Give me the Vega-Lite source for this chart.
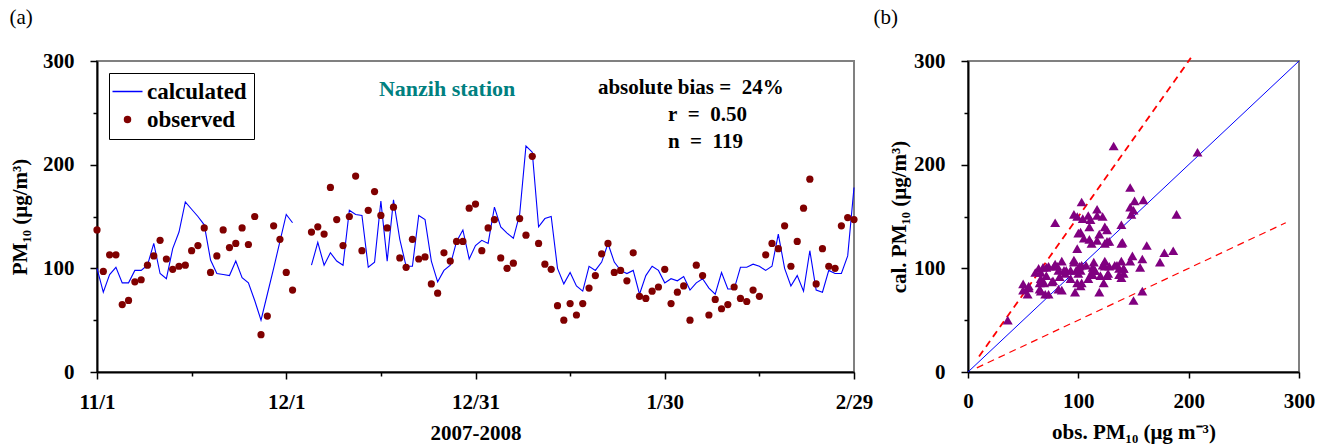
{
  "$schema": "https://vega.github.io/schema/vega-lite/v6.json",
  "background": "white",
  "padding": {"left": 8, "top": 6, "right": 26, "bottom": 4},
  "config": {
    "font": "Liberation Serif",
    "view": {"stroke": "#808080", "strokeWidth": 2},
    "axis": {
      "grid": false,
      "labelFont": "Liberation Serif", "labelFontSize": 21, "labelFontWeight": "bold", "labelColor": "black",
      "titleFont": "Liberation Serif", "titleFontSize": 21, "titleFontWeight": "bold", "titleColor": "black",
      "domainColor": "black", "domainWidth": 2, "tickColor": "black", "tickWidth": 1.5,
      "labelOverlap": false
    }
  },
  "datasets": {
    "pm": [
      {"d":0,"calc":100,"obs":137},{"d":1,"calc":77,"obs":97},{"d":2,"calc":94,"obs":113},{"d":3,"calc":101,"obs":113},
      {"d":4,"calc":86,"obs":65},{"d":5,"calc":86,"obs":69},{"d":6,"calc":98,"obs":87},{"d":7,"calc":98,"obs":89},
      {"d":8,"calc":103,"obs":103},{"d":9,"calc":124,"obs":112},{"d":10,"calc":95,"obs":127},{"d":11,"calc":90,"obs":109},
      {"d":12,"calc":119,"obs":99},{"d":13,"calc":135,"obs":102},{"d":14,"calc":164,"obs":103},{"d":15,"calc":157,"obs":117},
      {"d":16,"calc":150,"obs":122},{"d":17,"calc":142,"obs":139},{"d":18,"calc":108,"obs":96},{"d":19,"calc":95,"obs":112},
      {"d":20,"calc":94,"obs":137},{"d":21,"calc":93,"obs":120},{"d":22,"calc":107,"obs":124},{"d":23,"calc":91,"obs":139},
      {"d":24,"calc":86,"obs":123},{"d":25,"calc":69,"obs":150},{"d":26,"calc":50,"obs":36},{"d":27,"calc":75,"obs":54},
      {"d":28,"calc":100,"obs":141},{"d":29,"calc":126,"obs":128},{"d":30,"calc":152,"obs":96},{"d":31,"calc":144,"obs":79},
      {"d":32,"calc":null,"obs":null},{"d":33,"calc":null,"obs":null},
      {"d":34,"calc":103,"obs":135},{"d":35,"calc":125,"obs":140},{"d":36,"calc":103,"obs":133},{"d":37,"calc":115,"obs":178},
      {"d":38,"calc":107,"obs":147},{"d":39,"calc":103,"obs":122},{"d":40,"calc":156,"obs":150},{"d":41,"calc":152,"obs":189},
      {"d":42,"calc":151,"obs":117},{"d":43,"calc":101,"obs":156},{"d":44,"calc":106,"obs":174},{"d":45,"calc":165,"obs":151},
      {"d":46,"calc":107,"obs":139},{"d":47,"calc":166,"obs":159},{"d":48,"calc":128,"obs":110},{"d":49,"calc":102,"obs":101},
      {"d":50,"calc":102,"obs":128},{"d":51,"calc":151,"obs":109},{"d":52,"calc":147,"obs":111},{"d":53,"calc":107,"obs":85},
      {"d":54,"calc":87,"obs":76},{"d":55,"calc":98,"obs":115},{"d":56,"calc":103,"obs":107},{"d":57,"calc":126,"obs":126},
      {"d":58,"calc":137,"obs":126},{"d":59,"calc":109,"obs":158},{"d":60,"calc":122,"obs":162},{"d":61,"calc":127,"obs":117},
      {"d":62,"calc":124,"obs":139},{"d":63,"calc":159,"obs":147},{"d":64,"calc":140,"obs":110},{"d":65,"calc":134,"obs":100},
      {"d":66,"calc":129,"obs":105},{"d":67,"calc":152,"obs":148},{"d":68,"calc":218,"obs":132},{"d":69,"calc":212,"obs":208},
      {"d":70,"calc":140,"obs":124},{"d":71,"calc":148,"obs":104},{"d":72,"calc":150,"obs":99},{"d":73,"calc":100,"obs":64},
      {"d":74,"calc":85,"obs":50},{"d":75,"calc":96,"obs":66},{"d":76,"calc":83,"obs":55},{"d":77,"calc":78,"obs":66},
      {"d":78,"calc":102,"obs":81},{"d":79,"calc":98,"obs":93},{"d":80,"calc":106,"obs":114},{"d":81,"calc":124,"obs":124},
      {"d":82,"calc":106,"obs":96},{"d":83,"calc":98,"obs":98},{"d":84,"calc":95,"obs":88},{"d":85,"calc":98,"obs":115},
      {"d":86,"calc":75,"obs":73},{"d":87,"calc":93,"obs":71},{"d":88,"calc":102,"obs":78},{"d":89,"calc":98,"obs":82},
      {"d":90,"calc":86,"obs":99},{"d":91,"calc":90,"obs":66},{"d":92,"calc":88,"obs":77},{"d":93,"calc":92,"obs":83},
      {"d":94,"calc":79,"obs":50},{"d":95,"calc":86,"obs":103},{"d":96,"calc":90,"obs":93},{"d":97,"calc":81,"obs":55},
      {"d":98,"calc":75,"obs":70},{"d":99,"calc":96,"obs":61},{"d":100,"calc":80,"obs":65},{"d":101,"calc":80,"obs":82},
      {"d":102,"calc":101,"obs":71},{"d":103,"calc":101,"obs":68},{"d":104,"calc":104,"obs":79},{"d":105,"calc":102,"obs":73},
      {"d":106,"calc":98,"obs":113},{"d":107,"calc":102,"obs":124},{"d":108,"calc":133,"obs":119},{"d":109,"calc":100,"obs":141},
      {"d":110,"calc":83,"obs":102},{"d":111,"calc":93,"obs":126},{"d":112,"calc":78,"obs":158},{"d":113,"calc":117,"obs":186},
      {"d":114,"calc":79,"obs":85},{"d":115,"calc":77,"obs":119},{"d":116,"calc":98,"obs":102},{"d":117,"calc":95,"obs":100},
      {"d":118,"calc":95,"obs":141},{"d":119,"calc":112,"obs":149},{"d":120,"calc":178,"obs":147}
    ],
    "ref": [
      {"line":"1:1","obs":0,"calc":0},{"line":"1:1","obs":300,"calc":300},
      {"line":"1.5:1","obs":10,"calc":15},{"line":"1.5:1","obs":202,"calc":303},
      {"line":"0.5:1","obs":8,"calc":4},{"line":"0.5:1","obs":288,"calc":144}
    ]
  },
  "spacing": -2,
  "resolve": {"scale": {"color": "independent", "x": "independent", "y": "independent"}},
  "hconcat": [
    {
      "width": 757,
      "height": 311,
      "title": {"text": "(a)", "anchor": "start", "frame": "bounds", "font": "Liberation Serif", "fontSize": 21, "fontWeight": "normal", "color": "black", "offset": 22},
      "layer": [
        {
          "data": {"name": "pm"},
          "mark": {"type": "line", "strokeWidth": 1.1, "invalid": "break-paths-show-domains"},
          "encoding": {
            "x": {"field": "d", "type": "quantitative", "title": "2007-2008",
              "scale": {"domain": [0, 120], "nice": false, "zero": false},
              "axis": {"values": [0, 15, 30, 45, 60, 75, 90, 105, 120], "labelFlush": false, "labelPadding": 12, "titlePadding": 10,
                "labelExpr": "datum.value == 0 ? '11/1' : datum.value == 30 ? '12/1' : datum.value == 60 ? '12/31' : datum.value == 90 ? '1/30' : datum.value == 120 ? '2/29' : ''",
                "tickSize": {"condition": {"test": "datum.value % 30 != 0", "value": 4}, "value": 7}}},
            "y": {"field": "calc", "type": "quantitative", "title": "PM₁₀ (μg/m³)",
              "scale": {"domain": [0, 300], "nice": false},
              "axis": {"values": [0, 50, 100, 150, 200, 250, 300], "labelPadding": 16, "titlePadding": 12,
                "labelExpr": "datum.value % 100 == 0 ? datum.label : ''",
                "tickSize": {"condition": {"test": "datum.value % 100 != 0", "value": 4}, "value": 7}}},
            "color": {"datum": "calculated",
              "scale": {"domain": ["calculated", "observed"], "range": ["#0000ff", "#800000"]},
              "legend": {"title": null, "orient": "top-left", "offset": 12, "strokeColor": "black", "fillColor": "white", "padding": 7,
                "labelFont": "Liberation Serif", "labelFontSize": 23, "labelFontWeight": "bold", "labelColor": "black", "labelOffset": 8, "rowPadding": 4,
                "encode": {"symbols": {"update": {
                  "shape": {"signal": "datum.value == 'calculated' ? 'stroke' : 'circle'"},
                  "size": {"signal": "datum.value == 'calculated' ? 900 : 36"},
                  "stroke": {"signal": "datum.value == 'calculated' ? '#0000ff' : 'transparent'"},
                  "fill": {"signal": "datum.value == 'calculated' ? 'transparent' : '#800000'"},
                  "strokeWidth": {"value": 1.5},
                  "opacity": {"value": 1}
                }}}}}
          }
        },
        {
          "data": {"name": "pm"},
          "mark": {"type": "circle", "size": 52, "opacity": 1},
          "encoding": {
            "x": {"field": "d", "type": "quantitative", "title": "2007-2008"},
            "y": {"field": "obs", "type": "quantitative", "title": "PM₁₀ (μg/m³)"},
            "color": {"datum": "observed"}
          }
        },
        {
          "data": {"values": [{}]},
          "mark": {"type": "text", "text": "Nanzih station", "font": "Liberation Serif", "fontSize": 22, "fontWeight": "bold", "color": "#008080", "align": "center", "baseline": "middle"},
          "encoding": {"x": {"datum": 55.5, "type": "quantitative"}, "y": {"datum": 273, "type": "quantitative"}}
        },
        {
          "data": {"values": [{}]},
          "mark": {"type": "text", "text": "absolute bias =\u00a0\u00a024%", "font": "Liberation Serif", "fontSize": 21, "fontWeight": "bold", "color": "black", "align": "left", "baseline": "middle"},
          "encoding": {"x": {"datum": 79.4, "type": "quantitative"}, "y": {"datum": 274, "type": "quantitative"}}
        },
        {
          "data": {"values": [{}]},
          "mark": {"type": "text", "text": "r\u00a0\u00a0=\u00a0\u00a00.50", "font": "Liberation Serif", "fontSize": 21, "fontWeight": "bold", "color": "black", "align": "left", "baseline": "middle"},
          "encoding": {"x": {"datum": 90.5, "type": "quantitative"}, "y": {"datum": 248, "type": "quantitative"}}
        },
        {
          "data": {"values": [{}]},
          "mark": {"type": "text", "text": "n\u00a0\u00a0=\u00a0\u00a0119", "font": "Liberation Serif", "fontSize": 21, "fontWeight": "bold", "color": "black", "align": "left", "baseline": "middle"},
          "encoding": {"x": {"datum": 90.5, "type": "quantitative"}, "y": {"datum": 222, "type": "quantitative"}}
        }
      ]
    },
    {
      "width": 331,
      "height": 311,
      "title": {"text": "(b)", "anchor": "start", "frame": "bounds", "font": "Liberation Serif", "fontSize": 21, "fontWeight": "normal", "color": "black", "offset": 22, "dx": -15},
      "layer": [
        {
          "data": {"name": "ref"},
          "transform": [{"filter": "datum.line == '1:1'"}],
          "mark": {"type": "line", "color": "#0000ff", "strokeWidth": 1},
          "encoding": {
            "x": {"field": "obs", "type": "quantitative", "title": "obs. PM₁₀ (μg m⁻³)",
              "scale": {"domain": [0, 300], "nice": false},
              "axis": {"values": [0, 100, 200, 300], "labelFlush": false, "labelPadding": 12, "titlePadding": 10, "tickSize": 6}},
            "y": {"field": "calc", "type": "quantitative", "title": "cal. PM₁₀ (μg/m³)",
              "scale": {"domain": [0, 300], "nice": false},
              "axis": {"values": [0, 50, 100, 150, 200, 250, 300], "labelPadding": 16, "titlePadding": 4,
                "labelExpr": "datum.value % 100 == 0 ? datum.label : ''",
                "tickSize": {"condition": {"test": "datum.value % 100 != 0", "value": 4}, "value": 7}}}
          }
        },
        {
          "data": {"name": "ref"},
          "transform": [{"filter": "datum.line == '1.5:1'"}],
          "mark": {"type": "line", "color": "#ff0000", "strokeWidth": 1.8, "strokeDash": [7, 5]},
          "encoding": {
            "x": {"field": "obs", "type": "quantitative", "title": "obs. PM₁₀ (μg m⁻³)"},
            "y": {"field": "calc", "type": "quantitative", "title": "cal. PM₁₀ (μg/m³)"}
          }
        },
        {
          "data": {"name": "ref"},
          "transform": [{"filter": "datum.line == '0.5:1'"}],
          "mark": {"type": "line", "color": "#ff0000", "strokeWidth": 1.2, "strokeDash": [7, 5]},
          "encoding": {
            "x": {"field": "obs", "type": "quantitative", "title": "obs. PM₁₀ (μg m⁻³)"},
            "y": {"field": "calc", "type": "quantitative", "title": "cal. PM₁₀ (μg/m³)"}
          }
        },
        {
          "data": {"name": "pm"},
          "mark": {"type": "point", "shape": "triangle-up", "filled": true, "color": "#800080", "size": 100, "opacity": 1},
          "encoding": {
            "x": {"field": "obs", "type": "quantitative", "title": "obs. PM₁₀ (μg m⁻³)"},
            "y": {"field": "calc", "type": "quantitative", "title": "cal. PM₁₀ (μg/m³)"}
          }
        }
      ]
    }
  ]
}
